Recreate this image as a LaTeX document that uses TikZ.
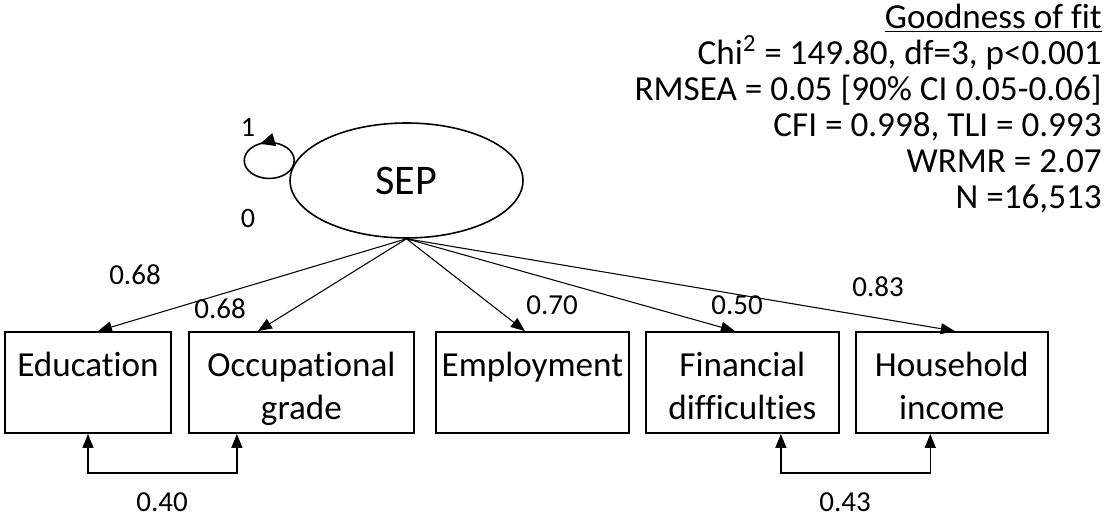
\documentclass[tikz,border=0pt]{standalone}
\usepackage{fontspec}
\setmainfont{Carlito}[Ligatures=NoCommon]
\usetikzlibrary{shapes.geometric, arrows.meta, positioning, calc, decorations.markings}

\begin{document}
\begin{tikzpicture}[x=0.02cm, y=0.02cm, >={Triangle[length=0.28cm, width=0.22cm]},
  indicator/.style={draw, rectangle, line width=1.1pt, minimum width=#1, minimum height=2.02cm, align=center, font=\fontsize{20}{24.5}\selectfont},
  oneline/.style={text height=0.5cm, text depth=0.72cm},
  twoline/.style={text height=1.6cm, text depth=0.1cm},
  coef/.style={font=\fontsize{16.5}{19}\selectfont}]
\useasboundingbox (0,0) rectangle (1106,516);

% Latent variable
\node[draw, ellipse, line width=0.9pt, minimum width=4.66cm, minimum height=2.3cm, font=\fontsize{24}{28}\selectfont] (sep) at (406.5,335.5) {SEP};
\draw[line width=0.9pt, postaction={decorate}, decoration={markings, mark=at position 0.32 with {\arrow{Triangle[length=0.3cm, width=0.26cm]}}}] ($(sep.west)+(-20,20)$) ellipse [x radius=0.5cm, y radius=0.36cm];
\node[font=\fontsize{16}{18}\selectfont] (var1) at (248,389) {1};
\node[font=\fontsize{16}{18}\selectfont] (mean0) at (248,298) {0};

% Indicators
\node[indicator=3.32cm, oneline] (edu) at (88,133.5) {Education};
\node[indicator=4.5cm, twoline, right=0.32cm of edu] (occ) {Occupational\\grade};
\node[indicator=3.82cm, oneline, right=0.4cm of occ] (emp) {Employment};
\node[indicator=3.86cm, twoline, right=0.3cm of emp] (fin) {Financial\\difficulties};
\node[indicator=3.84cm, twoline, right=0.3cm of fin] (hh) {Household\\income};

% Loadings
\draw[->, line width=0.6pt] (sep.south) -- ($(edu.north)+(10,0)$);
\draw[->, line width=0.6pt] (sep.south) -- ($(occ.north)+(-43.5,0)$);
\draw[->, line width=0.6pt] (sep.south) -- ($(emp.north)+(-7.5,0)$);
\draw[->, line width=0.6pt] (sep.south) -- ($(fin.north)+(-7.5,0)$);
\draw[->, line width=0.6pt] (sep.south) -- ($(hh.north)+(3,0)$);

\node[coef] (ledu) at (135,241) {0.68};
\node[coef] (locc) at (220,207) {0.68};
\node[coef] (lemp) at (552,211) {0.70};
\node[coef] (lfin) at (737,211) {0.50};
\node[coef] (lhh) at (878,229) {0.83};

% Residual covariances
\draw[<->, line width=0.75pt] (edu.south) -- ++(0,-39) -| ($(occ.south)+(-64.5,0)$);
\draw[<->, line width=0.75pt] ($(fin.south)+(38.5,0)$) -- ++(0,-39) -| ($(hh.south)+(-21.5,0)$);
\node[coef] (cov1) at (162,14) {0.40};
\node[coef] (cov2) at (845,14) {0.43};

% Fit indices
\node[anchor=base east, align=right, inner sep=0pt, font=\fontsize{20}{20.5}\selectfont] (fit) at (1102,307) {\underline{Goodness of fit}\\Chi\textsuperscript{2} = 149.80, df=3, p<0.001\\RMSEA = 0.05 [90\% CI 0.05-0.06]\\CFI = 0.998, TLI = 0.993\\WRMR = 2.07\\N =16,513};
\end{tikzpicture}
\end{document}
